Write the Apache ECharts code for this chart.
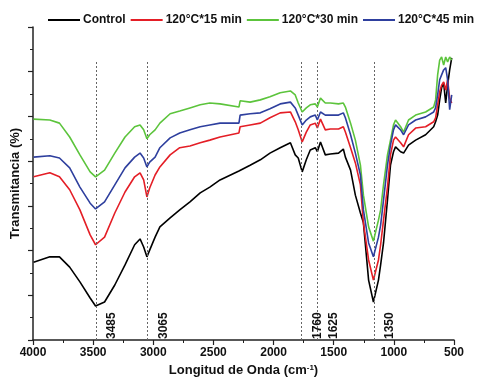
<!DOCTYPE html>
<html>
<head>
<meta charset="utf-8">
<script src="https://cdn.jsdelivr.net/npm/echarts@6/dist/echarts.min.js"></script>
<style>html,body{margin:0;padding:0;background:#fff}#c{width:486px;height:385px}</style>
</head>
<body>
<div id="c"></div>
<script>
const wavenumbers = [3995,3860,3780,3695,3610,3525,3480,3405,3320,3235,3155,3110,3080,3053,3030,2985,2945,2860,2780,2695,2610,2530,2445,2288,2278,2195,2110,2030,1945,1860,1820,1795,1762,1728,1695,1653,1636,1610,1570,1528,1460,1420,1403,1360,1320,1278,1253,1210,1170,1128,1110,1086,1053,1028,1003,986,944,919,878,819,736,669,653,636,619,603,586,569,553,536,519];
const control = [17.4,18.6,18.6,16.3,13.0,9.4,7.6,8.5,12.3,16.8,21.3,22.6,20.8,18.6,20.1,23.0,25.3,27.3,29.1,30.9,32.9,34.2,35.8,37.8,38.0,39.1,40.3,41.8,43.0,44.1,41.4,40.7,37.6,40.3,42.5,43.0,42.1,44.3,41.4,41.6,41.8,42.7,40.9,38.0,32.4,28.4,26.2,13.4,8.5,13.4,16.8,21.7,31.3,39.1,42.1,43.2,42.1,41.8,43.6,44.7,45.9,47.7,48.8,50.3,53.7,56.4,57.5,53.0,57.0,60.4,63.1];
const t15 = [36.5,37.4,36.5,33.6,29.1,23.5,21.3,23.0,28.4,33.1,36.5,37.4,35.8,32.0,34.0,36.9,38.7,41.4,43.0,43.4,44.1,44.7,45.4,46.3,47.7,48.1,48.5,49.7,50.8,51.0,48.8,47.0,44.3,46.5,48.1,48.5,47.4,49.4,47.0,47.2,47.2,47.7,46.5,43.0,39.6,34.7,26.2,17.9,13.4,17.9,21.3,26.8,34.2,41.4,44.7,45.4,44.1,43.2,45.9,47.4,47.7,48.8,49.7,52.6,55.5,57.0,57.7,55.9,58.2,54.1,53.0];
const t30 = [49.4,49.2,48.5,45.4,41.4,37.6,36.5,38.0,41.8,45.4,47.7,48.1,47.0,45.0,45.9,47.0,48.5,50.6,51.2,51.9,52.6,53.0,52.8,52.1,53.5,53.2,53.7,54.4,55.3,55.7,54.8,53.0,51.0,51.9,52.6,52.8,52.1,54.1,53.0,53.0,52.8,53.0,52.1,48.5,44.7,39.1,32.4,25.3,22.1,26.8,29.1,34.7,41.4,44.7,48.1,49.2,47.7,46.5,49.2,50.3,51.0,52.1,53.7,59.3,62.6,63.3,61.5,63.3,62.2,63.3,62.6];
const t45 = [40.9,41.2,40.7,38.5,34.2,30.6,29.3,30.9,34.7,38.5,40.9,41.8,40.7,38.7,39.8,40.9,43.0,45.2,46.3,47.0,47.7,48.1,48.5,48.5,50.3,50.6,50.8,51.7,52.8,53.2,51.9,50.3,48.1,49.2,49.9,50.3,49.2,51.0,50.3,50.3,50.3,50.8,49.7,45.9,41.8,36.9,29.1,21.7,18.6,23.0,25.7,31.3,39.1,43.6,47.0,48.1,47.0,45.9,48.1,49.2,49.9,51.0,51.9,54.8,58.2,59.3,60.4,60.9,58.2,51.5,54.8];
const seriesNames = ['Control','120°C*15 min','120°C*30 min','120°C*45 min'];
const peakPositions = [3478,3050,1769,1633,1167];
const peakLabels = ['3485','3065','1760','1625','1350'];
const xTicks = [4000,3500,3000,2500,2000,1500,1000,500];

const colors = ['#000000','#e41e26','#5cc43c','#2e3f9e'];
const allY = [control,t15,t30,t45];
const font = 'Liberation Sans, Arial, sans-serif';

const chart = echarts.init(document.getElementById('c'), null, {renderer:'canvas'});
const series = allY.map((arr,i)=>({
  name: seriesNames[i],
  type: 'line',
  symbol: 'none',
  smooth: false,
  data: wavenumbers.map((w,k)=>[w, arr[k]]),
  lineStyle: {width: 1.6, color: colors[i]},
  itemStyle: {color: colors[i]},
  z: 3 + i
}));
series.push({
  name: 'peaks',
  type: 'line',
  data: [],
  z: 2,
  markLine: {
    silent: true,
    symbol: ['none','none'],
    animation: false,
    lineStyle: {color:'#666', width:1, type:[2,2]},
    label: {
      show: true,
      position: 'insideStartBottom',
      formatter: p => p.name,
      fontFamily: font, fontWeight: 'bold', fontSize: 12, color: '#111',
      distance: [1, 10]
    },
    data: peakPositions.map((x,i)=>[
      {xAxis: x, yAxis: 0, name: peakLabels[i]},
      {xAxis: x, yAxis: 62.6}
    ])
  }
});

chart.setOption({
  animation: false,
  backgroundColor: '#fff',
  grid: {left: 33, right: 32, top: 27, bottom: 45},
  legend: {
    data: seriesNames,
    top: 9, left: 43,
    icon: 'rect', itemWidth: 32, itemHeight: 2, itemGap: 5,
    textStyle: {fontFamily: font, fontWeight: 'bold', fontSize: 12, color: '#111', padding:[0,0,0,-2]}
  },
  xAxis: {
    type: 'value', inverse: true, min: 500, max: 4000, interval: 500,
    name: 'Longitud de Onda (cm{sup|-1})',
    nameLocation: 'middle', nameGap: 20,
    nameTextStyle: {fontFamily: font, fontWeight: 'bold', fontSize: 13, color: '#111',
      rich: {sup: {fontFamily: font, fontWeight:'bold', fontSize: 8, verticalAlign:'top', padding:[0,0,6,0], color:'#111'}}},
    axisLine: {show: true, lineStyle: {color: '#222', width: 1.5}},
    axisTick: {show: true, inside: false, length: 5, lineStyle:{color:'#222', width:1.2}},
    minorTick: {show: true, splitNumber: 2, length: 3, lineStyle:{color:'#222', width:1}},
    axisLabel: {fontFamily: font, fontWeight: 'bold', fontSize: 12, color: '#111', margin: 7,
      formatter: v => xTicks.includes(v) ? String(v) : ''},
    splitLine: {show: false}
  },
  yAxis: {
    type: 'value', min: 0, max: 70, interval: 10,
    name: 'Transmitancia (%)',
    nameLocation: 'middle', nameGap: 11,
    nameTextStyle: {fontFamily: font, fontWeight: 'bold', fontSize: 13, color: '#111'},
    axisLine: {show: true, lineStyle: {color: '#222', width: 1.5}},
    axisTick: {show: true, inside: false, length: 5, lineStyle:{color:'#222', width:1.2}},
    minorTick: {show: true, splitNumber: 2, length: 3, lineStyle:{color:'#222', width:1}},
    axisLabel: {show: false},
    splitLine: {show: false}
  },
  series: series
});
</script>
</body>
</html>
